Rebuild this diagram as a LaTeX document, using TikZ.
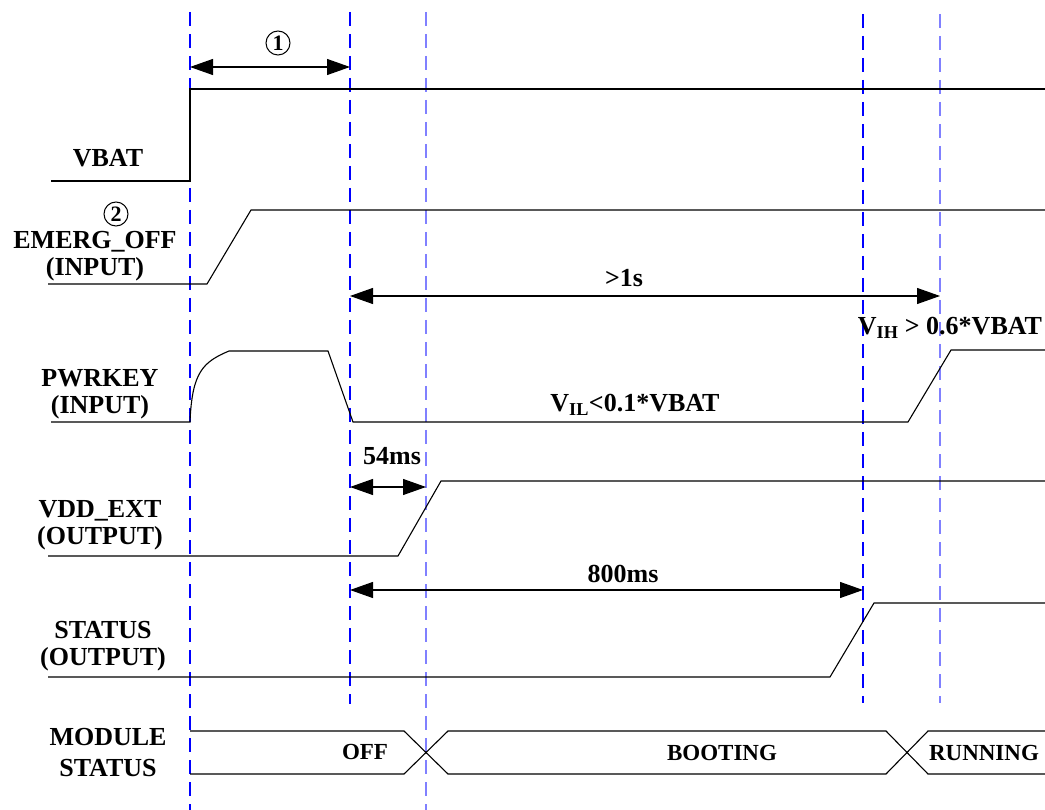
\documentclass[tikz,border=0pt]{standalone}
\usepackage{fontspec}
\setmainfont{Liberation Serif}
\usetikzlibrary{arrows.meta}
\definecolor{gridblue}{RGB}{0,0,255}
\definecolor{gridlight}{RGB}{128,128,255}
\begin{document}
\begin{tikzpicture}[x=1pt,y=-1pt,
  sig/.style={line width=1.1pt, black, line join=miter},
  grid/.style={line width=1.3pt, dash pattern=on 14pt off 8pt},
  gridA/.style={grid, gridblue},
  gridB/.style={grid, gridlight},
  dim/.style={line width=1.1pt, {Triangle[length=23pt,width=16pt]}-{Triangle[length=23pt,width=16pt]}},
  lbl/.style={font=\fontsize{26}{27}\selectfont\bfseries, align=center, inner sep=0pt},
  st/.style={font=\fontsize{23}{25}\selectfont\bfseries, inner sep=0pt},
  num/.style={circle, draw, line width=1pt, inner sep=0pt, minimum size=24pt, font=\fontsize{22}{22}\selectfont\bfseries}
]
\useasboundingbox (0,0) rectangle (1045,810);

% time markers
\coordinate (g1t) at (190,12);  \coordinate (g1b) at (190,810);
\coordinate (g2t) at (350,12);  \coordinate (g2b) at (350,704);
\coordinate (g3t) at (426,12);  \coordinate (g3b) at (426,810);
\coordinate (g4t) at (863,14);  \coordinate (g4b) at (863,703);
\coordinate (g5t) at (940,14);  \coordinate (g5b) at (940,703);
\draw[gridA] (g1t) -- (g1b);
\draw[gridA] (g2t) -- (g2b);
\draw[gridB] (g3t) -- (g3b);
\draw[gridA] (g4t) -- (g4b);
\draw[gridB] (g5t) -- (g5b);

% signal labels
\node[lbl] (lvbat) at (108,158) {VBAT};
\node[lbl] (lemerg) at (95,256) {EMERG\_OFF\\(INPUT)};
\node[lbl] (lpwr) at (100,394) {PWRKEY\\(INPUT)};
\node[lbl] (lvdd) at (100,525) {VDD\_EXT\\(OUTPUT)};
\node[lbl] (lstat) at (103,646) {STATUS\\(OUTPUT)};
\node[lbl, font=\fontsize{26}{31}\selectfont\bfseries] (lmod) at (108,753) {MODULE\\STATUS};

% waveforms
\draw[sig] (51,181) -- (190,181) -- (190,89) -- (1045,89);
\draw[sig] (48,284) -- (207,284) -- (251,210) -- (1045,210);
\draw[sig] (51,422) -- (190,422) .. controls (192,372) and (203,362) .. (229,351)
  -- (328,351) -- (353,422) -- (908,422) -- (951,350) -- (1045,350);
\draw[sig] (48,556) -- (398,556) -- (441,481) -- (1045,481);
\draw[sig] (48,677) -- (830,677) -- (874,603) -- (1045,603);

% module status bus
\draw[sig] (190,731) -- (404,731) -- (448,774) -- (886,774) -- (928,731) -- (1045,731);
\draw[sig] (190,774) -- (404,774) -- (448,731) -- (886,731) -- (928,774) -- (1045,774);
\node[st] (soff) at (365,752) {OFF};
\node[st] (sboot) at (722,753) {BOOTING};
\node[st] (srun) at (984,753) {RUNNING};

% dimensions
\coordinate (d1a) at (190,67);  \coordinate (d1b) at (350,67);
\draw[dim] (d1a) -- (d1b);
\node[num] (n1) at (278,43) {1};
\node[num] (n2) at (116,214) {2};

\coordinate (d2a) at (350,296); \coordinate (d2b) at (940,296);
\draw[dim] (d2a) -- (d2b);
\node[lbl] (l1s) at (624,278) {>1s};

\coordinate (d3a) at (350,487); \coordinate (d3b) at (426,487);
\draw[dim] (d3a) -- (d3b);
\node[lbl] (l54) at (392,456) {54ms};

\coordinate (d4a) at (350,590); \coordinate (d4b) at (863,590);
\draw[dim] (d4a) -- (d4b);
\node[lbl] (l800) at (623,574) {800ms};

\node[lbl, anchor=base] (lvil) at (635,412) {V\textsubscript{IL}<0.1*VBAT};
\node[lbl, anchor=base] (lvih) at (950,335) {V\textsubscript{IH} > 0.6*VBAT};
\end{tikzpicture}
\end{document}
